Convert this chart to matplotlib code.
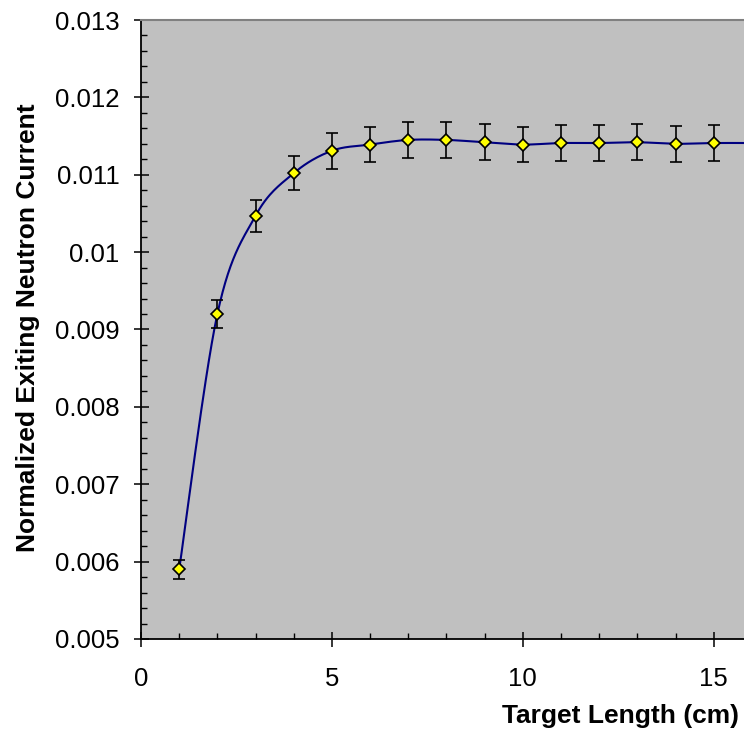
import numpy as np
import matplotlib
matplotlib.use('Agg')
import matplotlib.pyplot as plt
from matplotlib.ticker import MultipleLocator

plt.rcParams['font.family'] = ['Liberation Sans', 'DejaVu Sans']

# target length (cm) and normalized exiting current
length = [1, 2, 3, 4, 5, 6, 7, 8, 9, 10, 11, 12, 13, 14, 15, 16]
current = [0.00590, 0.00920, 0.01047, 0.01102, 0.01131, 0.01139, 0.01145, 0.01145,
           0.01142, 0.01139, 0.01141, 0.01141, 0.01142, 0.01140, 0.01141, 0.01141]
err = [0.00012, 0.00018, 0.00021, 0.00022, 0.00023, 0.00023, 0.00023, 0.00023,
       0.00023, 0.00023, 0.00023, 0.00023, 0.00023, 0.00023, 0.00023, 0.00023]

y_ticks = [0.005, 0.006, 0.007, 0.008, 0.009, 0.01, 0.011, 0.012, 0.013]
y_labels = ['0.005', '0.006', '0.007', '0.008', '0.009', '0.01', '0.011', '0.012', '0.013']


def smooth_line(x, y, n=30):
    # excel style smoothed line (catmull-rom bezier)
    x = np.asarray(x, float)
    y = np.asarray(y, float)
    px, py = [], []
    for i in range(len(x) - 1):
        x0, y0 = (x[i - 1], y[i - 1]) if i > 0 else (x[i], y[i])
        x3, y3 = (x[i + 2], y[i + 2]) if i + 2 < len(x) else (x[i + 1], y[i + 1])
        c1x = x[i] + (x[i + 1] - x0) / 6
        c1y = y[i] + (y[i + 1] - y0) / 6
        c2x = x[i + 1] - (x3 - x[i]) / 6
        c2y = y[i + 1] - (y3 - y[i]) / 6
        t = np.linspace(0, 1, n)
        px.extend((1 - t) ** 3 * x[i] + 3 * (1 - t) ** 2 * t * c1x + 3 * (1 - t) * t ** 2 * c2x + t ** 3 * x[i + 1])
        py.extend((1 - t) ** 3 * y[i] + 3 * (1 - t) ** 2 * t * c1y + 3 * (1 - t) * t ** 2 * c2y + t ** 3 * y[i + 1])
    return px, py


fig = plt.figure(figsize=(7.44, 7.42), dpi=100)
ax = fig.add_axes([141 / 744, 103 / 742, 1 - 141 / 744, 619 / 742])
ax.set_facecolor('#C0C0C0')

sx, sy = smooth_line(length, current)
ax.plot(sx, sy, color='#000080', lw=1.5, zorder=2)
ax.errorbar(length, current, yerr=err, fmt='none', ecolor='black', elinewidth=1.2,
            capsize=4, capthick=1.2, zorder=3)
ax.plot(length, current, linestyle='none', marker='D', markersize=6.5,
        markerfacecolor='#FFFF00', markeredgecolor='black', markeredgewidth=1.2, zorder=4)

ax.set_xlim(0, 603 / 38.18)
ax.set_ylim(0.005, 0.013)
ax.xaxis.set_major_locator(MultipleLocator(5))
ax.xaxis.set_minor_locator(MultipleLocator(1))
ax.set_yticks(y_ticks)
ax.set_yticklabels(y_labels)
ax.yaxis.set_minor_locator(MultipleLocator(0.0002))

ax.tick_params(which='major', direction='inout', length=10.8, width=1.1, labelsize=18.5)
ax.tick_params(axis='x', which='major', pad=15)
ax.tick_params(axis='y', which='major', pad=10)
ax.tick_params(which='minor', direction='in', length=4.3, width=1.0)

ax.spines['right'].set_visible(False)
ax.spines['top'].set_color('#808080')
ax.spines['top'].set_linewidth(1.5)
ax.spines['left'].set_linewidth(1.3)
ax.spines['bottom'].set_linewidth(1.3)

fig.text(739 / 744, 1 - 723.5 / 742, 'Target Length (cm)', ha='right', va='baseline',
         fontsize=19, fontweight='bold')
fig.text(28 / 744, 1 - 328 / 742, 'Normalized Exiting Neutron Current', ha='center',
         va='center', rotation=90, fontsize=19, fontweight='bold')

fig.savefig('out.png', dpi=100)
